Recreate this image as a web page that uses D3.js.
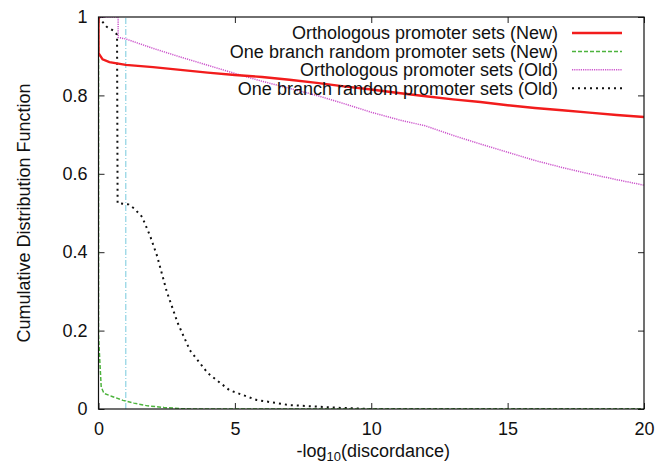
<!DOCTYPE html>
<html>
<head>
<meta charset="utf-8">
<script src="https://cdn.jsdelivr.net/npm/d3@7"></script>
<style>
  body { margin: 0; background: #fff; }
  text { font-family: "Liberation Sans", Arial, sans-serif; fill: #111; }
</style>
</head>
<body>
<svg id="chart" width="671" height="467"></svg>
<script>
// x values of -log10(discordance), y = cumulative fraction
const orthoNew = [[0,1],[0,0.908],[0.15,0.892],[0.4,0.885],[1,0.878],[2,0.872],[3,0.865],[4,0.858],
  [5,0.852],[6,0.847],[7,0.84],[8,0.832],[9,0.823],[10,0.815],[11,0.806],[12,0.798],[13,0.79],
  [14,0.783],[15,0.775],[16,0.768],[17,0.762],[18,0.756],[19,0.75],[20,0.745]];

const randomNew = [[0,1],[0,0.19],[0.05,0.12],[0.1,0.056],[0.2,0.04],[0.5,0.032],[0.9,0.022],
  [1.3,0.015],[1.8,0.008],[2.4,0.004],[3,0.001],[3.5,0],[20,0]];

const orthoOld = [[0,1],[0.72,1],[0.72,0.948],[1,0.944],[2,0.92],[3,0.898],[4,0.877],[5,0.856],
  [6,0.836],[7,0.818],[8,0.8],[9,0.779],[10,0.757],[11,0.738],[12,0.722],[13,0.698],[14,0.676],
  [15,0.655],[16,0.634],[17,0.616],[18,0.6],[19,0.585],[20,0.571]];

const randomOld = [[0,1],[0.3,0.975],[0.55,0.965],[0.68,0.955],[0.7,0.525],[1.1,0.522],[1.3,0.512],
  [1.6,0.49],[1.9,0.44],[2.15,0.39],[2.5,0.3],[2.9,0.22],[3.35,0.15],[4,0.092],[4.8,0.048],
  [5.8,0.023],[7,0.01],[8.8,0.003],[10,0],[20,0]];

const cutoff = 1;

const xTicks = [0, 5, 10, 15, 20];
const yTicks = [0, 0.2, 0.4, 0.6, 0.8, 1];

const series = [
  { name: "Orthologous promoter sets (New)", data: orthoNew, color: "#f21c1c", width: 2.4, dash: null },
  { name: "One branch random promoter sets (New)", data: randomNew, color: "#4db33d", width: 1.5, dash: "4,2" },
  { name: "Orthologous promoter sets (Old)", data: orthoOld, color: "#cc55cc", width: 1.5, dash: "1.2,1" },
  { name: "One branch random promoter sets (Old)", data: randomOld, color: "#111", width: 2, dash: "2,4" }
];

const svg = d3.select("#chart");
const margin = { left: 98.5, right: 27, top: 17, bottom: 58 };
const W = 671, H = 467;
const fontSize = 18;

const x = d3.scaleLinear().domain([0, 20]).range([margin.left, W - margin.right]);
const y = d3.scaleLinear().domain([0, 1]).range([H - margin.bottom, margin.top]);

svg.append("defs").append("clipPath").attr("id", "plotclip")
  .append("rect")
  .attr("x", x(0)).attr("y", y(1))
  .attr("width", x(20) - x(0)).attr("height", y(0) - y(1));

// axes, ticks inside and mirrored
const tickLen = 6;
svg.append("g").attr("transform", `translate(0,${y(0)})`)
  .call(d3.axisBottom(x).tickValues(xTicks).tickSize(-tickLen).tickPadding(13))
  .call(g => g.select(".domain").remove());
svg.append("g").attr("transform", `translate(0,${y(1)})`)
  .call(d3.axisTop(x).tickValues(xTicks).tickSize(-tickLen).tickFormat(""))
  .call(g => g.select(".domain").remove());
svg.append("g").attr("transform", `translate(${x(0)},0)`)
  .call(d3.axisLeft(y).tickValues(yTicks).tickSize(-tickLen).tickPadding(11).tickFormat(d3.format("")))
  .call(g => g.select(".domain").remove());
svg.append("g").attr("transform", `translate(${x(20)},0)`)
  .call(d3.axisRight(y).tickValues(yTicks).tickSize(-tickLen).tickFormat(""))
  .call(g => g.select(".domain").remove());

svg.selectAll(".tick line").attr("stroke", "#222");
svg.selectAll(".tick text").attr("font-size", fontSize).attr("fill", "#111")
  .attr("font-family", "Liberation Sans, Arial, sans-serif");

// cutoff line
svg.append("line")
  .attr("x1", x(cutoff)).attr("x2", x(cutoff))
  .attr("y1", y(0)).attr("y2", y(1))
  .attr("stroke", "#8ed3e3").attr("stroke-width", 1.2)
  .attr("stroke-dasharray", "6,2,1,2");

const line = d3.line().x(d => x(d[0])).y(d => y(d[1]));

const plot = svg.append("g").attr("clip-path", "url(#plotclip)");
series.slice().reverse().forEach(s => {
  plot.append("path")
    .datum(s.data)
    .attr("d", line)
    .attr("fill", "none")
    .attr("stroke", s.color)
    .attr("stroke-width", s.width)
    .attr("stroke-dasharray", s.dash);
});

// frame
svg.append("rect")
  .attr("x", x(0)).attr("y", y(1))
  .attr("width", x(20) - x(0)).attr("height", y(0) - y(1))
  .attr("fill", "none").attr("stroke", "#111").attr("stroke-width", 1.2);

// legend
const legend = svg.append("g");
series.forEach((s, i) => {
  const ly = 33 + i * 18.4;
  legend.append("text")
    .attr("x", 558).attr("y", ly)
    .attr("dy", "0.35em")
    .attr("text-anchor", "end")
    .attr("font-size", fontSize)
    .text(s.name);
  legend.append("line")
    .attr("x1", 572).attr("x2", 622)
    .attr("y1", ly).attr("y2", ly)
    .attr("stroke", s.color)
    .attr("stroke-width", s.width)
    .attr("stroke-dasharray", s.dash);
});

// axis labels
const xl = svg.append("text")
  .attr("x", x(10) + 2).attr("y", 457)
  .attr("text-anchor", "middle")
  .attr("font-size", fontSize);
xl.append("tspan").text("-log");
xl.append("tspan").attr("font-size", 13).attr("dy", 4).text("10");
xl.append("tspan").attr("dy", -4).text("(discordance)");

svg.append("text")
  .attr("transform", `translate(30,${(y(0) + y(1)) / 2}) rotate(-90)`)
  .attr("text-anchor", "middle")
  .attr("font-size", fontSize)
  .text("Cumulative Distribution Function");
</script>
</body>
</html>
